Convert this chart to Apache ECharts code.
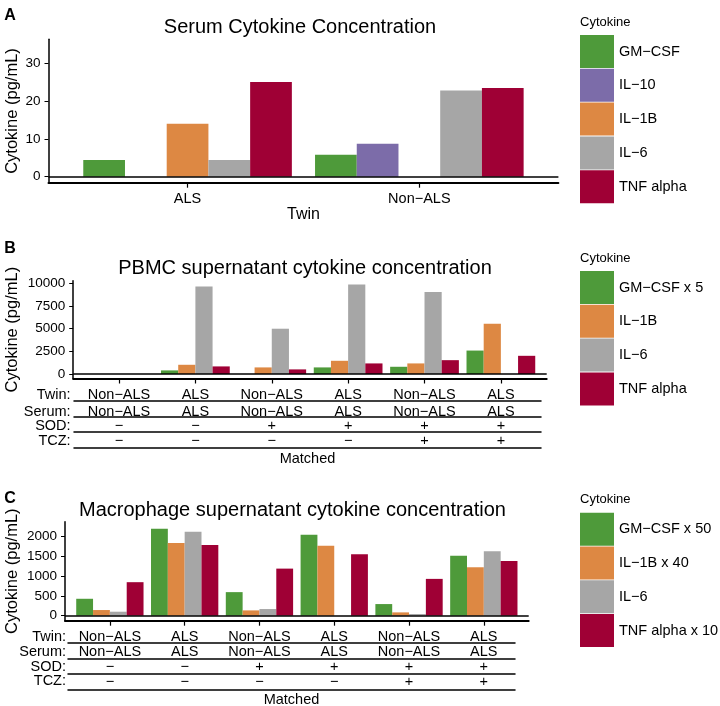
<!DOCTYPE html>
<html>
<head>
<meta charset="utf-8">
<script src="https://cdn.jsdelivr.net/npm/echarts@6/dist/echarts.min.js"></script>
<style>
  html, body { margin: 0; padding: 0; background: #fff; }
  #chart { width: 720px; height: 706px; }
</style>
</head>
<body>
<div id="chart"></div>
<script>
// ---- A: serum ----
const serumTwin = ['ALS', 'Non−ALS']
const serumNames = ['GM−CSF', 'IL−10', 'IL−1B', 'IL−6', 'TNF alpha']
const serumGM = [4.4, 5.8]
const serumIL10 = [null, 8.7]
const serumIL1B = [14.0, null]
const serumIL6 = [4.4, 22.8]
const serumTNF = [25.1, 23.5]
const serumTicks = [0, 10, 20, 30]

// ---- shared table rows for B and C ----
const twinRow = ['Non−ALS', 'ALS', 'Non−ALS', 'ALS', 'Non−ALS', 'ALS']
const serumRow = ['Non−ALS', 'ALS', 'Non−ALS', 'ALS', 'Non−ALS', 'ALS']
const sodRow = ['−', '−', '+', '+', '+', '+']
const tczRow = ['−', '−', '−', '−', '+', '+']
const rowNames = ['Twin:', 'Serum:', 'SOD:', 'TCZ:']

// ---- B: PBMC ----
const pbmcNames = ['GM−CSF x 5', 'IL−1B', 'IL−6', 'TNF alpha']
const pbmcGM = [0, 400, 0, 730, 800, 2590]
const pbmcIL1B = [0, 1020, 730, 1460, 1170, 5550]
const pbmcIL6 = [0, 9670, 5000, 9890, 9050, 0]
const pbmcTNF = [0, 840, 510, 1170, 1530, 2010]
const pbmcTicks = [0, 2500, 5000, 7500, 10000]

// ---- C: macrophage ----
const macNames = ['GM−CSF x 50', 'IL−1B x 40', 'IL−6', 'TNF alpha x 10']
const macGM = [425, 2183, 592, 2033, 292, 1508]
const macIL1B = [142, 1825, 133, 1758, 83, 1217]
const macIL6 = [100, 2108, 167, 0, 42, 1617]
const macTNF = [842, 1775, 1183, 1542, 925, 1375]
const macTicks = [0, 500, 1000, 1500, 2000]

const GREEN = '#4E9A3A', PURPLE = '#7C6CA9', ORANGE = '#DD8843', GREY = '#A6A6A6', RED = '#9F0035'
const FONT = 'Liberation Sans, Arial, sans-serif'
const LBL = 14.5 // table / category label size

const grid = [], xAxis = [], yAxis = [], series = [], graphic = [], legend = []

function txt (x, y, text, size, align, bold) {
  graphic.push({
    type: 'text', x: x, y: y, silent: true,
    style: { text: text, fill: '#000', font: (bold ? 'bold ' : '') + size + 'px ' + FONT, align: align || 'center', verticalAlign: 'middle' }
  })
}

// one bar panel: plot grid + main axis (+ optional table of rows underneath)
function panel (p) {
  const gi = grid.length
  const unit = (p.right - p.left) / (p.n + 0.2)
  grid.push({ left: p.left, top: p.top, width: p.right - p.left, height: p.bottom - p.top, containLabel: false, outerBoundsMode: 'none' })
  const xi = xAxis.length
  const cats = p.cats.map((c, i) => i + 1)
  xAxis.push({
    type: 'value', gridIndex: gi, position: 'bottom', min: 0.4, max: p.n + 0.6,
    axisLine: { show: true, onZero: false, lineStyle: { color: '#000', width: 2 } },
    axisTick: { show: true, customValues: cats, length: 5, lineStyle: { color: '#000', width: 1.2 } },
    axisLabel: { customValues: cats, formatter: v => p.cats[Math.round(v) - 1], margin: p.rowY - p.bottom - LBL / 2, color: '#000', fontSize: LBL, fontFamily: FONT },
    splitLine: { show: false },
    name: p.xName || '', nameLocation: 'middle', nameGap: p.xNameGap || 0, nameMoveOverlap: false,
    nameTextStyle: { color: '#000', fontSize: 16, fontFamily: FONT }
  })
  const yi = yAxis.length
  yAxis.push({
    type: 'value', gridIndex: gi, position: 'left', min: p.yMin, max: p.yMax,
    axisLine: { show: true, onZero: false, lineStyle: { color: '#000', width: 1.5 } },
    axisTick: { show: true, customValues: p.ticks, length: 4, lineStyle: { color: '#000', width: 1 } },
    axisLabel: { customValues: p.ticks, formatter: v => String(v), margin: 8, color: '#000', fontSize: 13.5, fontFamily: FONT },
    splitLine: { show: false },
    name: 'Cytokine (pg/mL)', nameLocation: 'middle', nameGap: p.left - 21, nameMoveOverlap: false,
    nameTextStyle: { color: '#000', fontSize: 16.5, fontFamily: FONT }
  })
  const k = p.values.length
  const slot = 0.9 / k
  p.values.forEach((vals, s) => {
    series.push({
      type: 'bar', name: p.names[s], xAxisIndex: xi, yAxisIndex: yi,
      barWidth: slot * unit, barGap: '-100%',
      itemStyle: { color: p.colors[s] },
      data: vals.map((v, i) => v == null ? null : [i + 1 + (s - (k - 1) / 2) * slot, v]).filter(d => d),
      markLine: s === 0 ? {
        silent: true, symbol: ['none', 'none'], label: { show: false },
        lineStyle: { color: '#000', width: 1.5, type: 'solid' },
        data: [{ yAxis: 0 }]
      } : undefined
    })
  })
  legend.push({
    orient: 'vertical', left: 580, top: p.legendTop, padding: 0,
    itemWidth: 34, itemHeight: 33, itemGap: 0.8, icon: 'rect', selectedMode: false,
    data: p.names, textStyle: { color: '#000', fontSize: LBL, fontFamily: FONT }
  })
  txt(580, p.legendTop - 13, 'Cytokine', 13, 'left')
  txt(p.titleX, p.titleY, p.title, 20)
  txt(10, p.letterY, p.letter, 16, 'center', true)

  if (!p.table) return
  const t = p.table
  const tgi = grid.length
  grid.push({ left: t.left, top: t.lines[0] - 10, width: t.right - t.left, height: 10, containLabel: false, outerBoundsMode: 'none' })
  yAxis.push({ type: 'value', gridIndex: tgi, show: false })
  const tMin = 0.4 + (t.left - p.left) / unit
  const tMax = 0.4 + (t.right - p.left) / unit
  const rows = [serumRow, sodRow, tczRow]
  t.lines.forEach((ly, r) => {
    const last = r === t.lines.length - 1
    xAxis.push({
      type: 'value', gridIndex: tgi, position: 'bottom', min: tMin, max: tMax, offset: ly - t.lines[0],
      axisLine: { show: true, onZero: false, lineStyle: { color: '#000', width: 1.5 } },
      axisTick: { show: false },
      axisLabel: last ? { show: false } : {
        customValues: cats, formatter: v => rows[r][Math.round(v) - 1],
        margin: t.rows[r + 1] - ly - LBL / 2, color: '#000', fontSize: LBL, fontFamily: FONT
      },
      splitLine: { show: false },
      name: last ? 'Matched' : '', nameLocation: 'middle', nameGap: t.matchedY - ly - LBL / 2, nameMoveOverlap: false,
      nameTextStyle: { color: '#000', fontSize: LBL, fontFamily: FONT }
    })
  })
  rowNames.forEach((nm, r) => txt(t.nameRight, t.rows[r], nm, LBL, 'right'))
}

panel({
  letter: 'A', letterY: 16, title: 'Serum Cytokine Concentration', titleX: 300, titleY: 27,
  left: 48.5, right: 558.4, top: 39.3, bottom: 182.7, yMin: -1.6, yMax: 36.4, ticks: serumTicks,
  n: 2, cats: serumTwin, rowY: 198.3, xName: 'Twin', xNameGap: 24.3,
  names: serumNames, colors: [GREEN, PURPLE, ORANGE, GREY, RED],
  values: [serumGM, serumIL10, serumIL1B, serumIL6, serumTNF], legendTop: 35
})

panel({
  letter: 'B', letterY: 249, title: 'PBMC supernatant cytokine concentration', titleX: 305, titleY: 268.5,
  left: 73.2, right: 546.7, top: 280.7, bottom: 378.5, yMin: -494, yMax: 10300, ticks: pbmcTicks,
  n: 6, cats: twinRow, rowY: 395,
  names: pbmcNames, colors: [GREEN, ORANGE, GREY, RED],
  values: [pbmcGM, pbmcIL1B, pbmcIL6, pbmcTNF], legendTop: 271,
  table: { left: 74, right: 541, lines: [400.7, 417, 431.7, 447.7], rows: [395, 411.7, 426, 440.5], matchedY: 458.7, nameRight: 70.6 }
})

panel({
  letter: 'C', letterY: 498.5, title: 'Macrophage supernatant cytokine concentration', titleX: 292.5, titleY: 510,
  left: 65, right: 528.7, top: 521.7, bottom: 620.7, yMin: -126, yMax: 2362, ticks: macTicks,
  n: 6, cats: twinRow, rowY: 636.7,
  names: macNames, colors: [GREEN, ORANGE, GREY, RED],
  values: [macGM, macIL1B, macIL6, macTNF], legendTop: 512.7,
  table: { left: 68, right: 515, lines: [642.5, 658.3, 673.3, 689.3], rows: [636.7, 652, 666.7, 681.3], matchedY: 700, nameRight: 66 }
})

const chart = echarts.init(document.getElementById('chart'), null, { renderer: 'canvas' })
chart.setOption({
  animation: false,
  backgroundColor: '#fff',
  textStyle: { fontFamily: FONT },
  grid: grid, xAxis: xAxis, yAxis: yAxis, series: series, legend: legend, graphic: graphic
})
</script>
</body>
</html>
